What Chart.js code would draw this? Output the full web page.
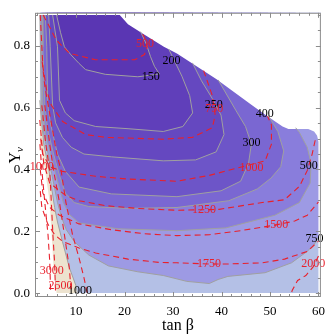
<!DOCTYPE html>
<html><head><meta charset="utf-8">
<script src="https://cdn.jsdelivr.net/npm/chart.js@4.4.0/dist/chart.umd.min.js"></script>
<style>html,body{margin:0;padding:0;background:#fff;}canvas{display:block;}</style>
</head><body>
<canvas id="c" width="332" height="334"></canvas>
<script>
// ---- axis ticks ----
const xTicks = [10, 20, 30, 40, 50, 60];
const yTicks = [0.0, 0.2, 0.4, 0.6, 0.8];

// ---- data domain: top / diagonal edge of the computed region (tan beta, Y) ----
const edgeTop = [[2.5,0.9],[19.0,0.9],[20.7,0.870],[23.3,0.844],[28.1,0.797],[30.8,0.775],[38.9,0.693],[46.3,0.608],[49.4,0.573],[52.6,0.539],[53.8,0.531],[57.9,0.531],[59.1,0.523],[59.7,0.510],[60.0,0.491]];

// ---- grey (filled) contour levels ----
const c150 = [[5.96,0.9],[6.77,0.844],[7.58,0.797],[8.93,0.771],[10.61,0.743],[11.96,0.723],[16.0,0.708],[22.73,0.700],[27.17,0.709],[26.16,0.734],[25.35,0.765],[24.55,0.803],[23.3,0.846]];
const c200 = [[5.15,0.9],[6.16,0.797],[6.57,0.624],[7.78,0.583],[9.60,0.558],[14.04,0.539],[20.71,0.532],[27.98,0.523],[32.02,0.539],[34.04,0.583],[33.43,0.639],[31.82,0.702],[29.1,0.79]];
const c250 = [[4.34,0.9],[4.65,0.797],[5.15,0.608],[5.76,0.551],[7.17,0.504],[8.99,0.472],[11.62,0.450],[17.27,0.441],[27.98,0.428],[34.65,0.431],[38.89,0.457],[40.51,0.513],[39.90,0.576],[38.08,0.630],[35.86,0.687],[34.0,0.745]];
const c300 = [[3.64,0.9],[3.94,0.797],[4.14,0.608],[4.75,0.545],[6.16,0.450],[7.78,0.394],[10.61,0.343],[17.27,0.321],[30.81,0.312],[39.90,0.331],[43.94,0.362],[45.56,0.419],[46.16,0.482],[44.95,0.539],[42.93,0.592],[39.3,0.69]];
const c400 = [[3.03,0.9],[3.13,0.797],[3.54,0.608],[4.14,0.529],[5.35,0.450],[6.57,0.381],[7.78,0.324],[9.60,0.293],[12.63,0.280],[20.71,0.274],[30.81,0.277],[41.52,0.299],[47.37,0.337],[50.20,0.372],[52.22,0.409],[52.83,0.460],[51.62,0.523],[49.60,0.576]];
const c500 = [[2.73,0.9],[2.83,0.797],[3.13,0.608],[3.74,0.513],[4.75,0.450],[5.76,0.387],[6.57,0.340],[7.37,0.293],[8.59,0.255],[10.61,0.227],[18.69,0.208],[30.81,0.202],[40.91,0.211],[51.01,0.252],[56.06,0.293],[58.28,0.356],[58.48,0.419],[57.68,0.472],[56.06,0.520],[55.3,0.535]];
const c750 = [[2.53,0.9],[2.63,0.797],[2.83,0.608],[3.33,0.513],[4.24,0.450],[4.95,0.387],[5.56,0.340],[6.16,0.293],[6.97,0.246],[7.98,0.205],[9.60,0.167],[12.63,0.123],[16.67,0.088],[22.73,0.069],[27.98,0.057],[32.83,0.038],[37.47,0.031],[39.29,0.044],[41.31,0.054],[48.99,0.066],[54.44,0.098],[57.68,0.135],[59.09,0.157],[60.0,0.180]];
const c1000 = [[2.5,0.624],[2.93,0.545],[3.33,0.482],[3.74,0.450],[4.34,0.403],[4.95,0.340],[5.56,0.277],[6.16,0.230],[7.17,0.167],[8.59,0.083],[9.94,0.025],[10.26,0.0]];
const cHigh = [[2.5,0.49],[3.54,0.403],[4.55,0.293],[4.95,0.189],[5.35,0.085],[5.96,0.0],[2.5,0.0]];

// ---- red dashed contours ----
const r500 = [[3.2,0.9],[4.55,0.860],[5.9,0.819],[8.59,0.776],[14.0,0.755],[22.1,0.755],[24.1,0.772],[24.7,0.797],[24.1,0.828],[23.4,0.846]];
const r750 = [[2.6,0.9],[3.13,0.734],[3.94,0.655],[4.89,0.608],[7.23,0.555],[11.96,0.513],[16.0,0.504],[28.0,0.498],[34.0,0.504],[38.1,0.535],[38.7,0.576],[38.1,0.639],[36.7,0.702],[36.3,0.72]];
const r1000 = [[2.5,0.56],[3.13,0.450],[4.55,0.409],[7.17,0.394],[14.0,0.378],[20.7,0.369],[30.8,0.362],[37.5,0.381],[44.3,0.409],[49.0,0.428],[50.3,0.482],[50.3,0.545],[49.5,0.572]];
const r1250 = [[2.7,0.5],[3.33,0.419],[4.55,0.356],[7.92,0.315],[10.6,0.299],[16.0,0.283],[22.7,0.274],[30.8,0.268],[39.5,0.271],[44.3,0.283],[48.4,0.293],[53.0,0.302],[56.1,0.346],[57.7,0.397],[58.7,0.450],[59.5,0.507]];
const r1500 = [[2.6,0.40],[3.13,0.324],[4.55,0.277],[6.57,0.252],[10.6,0.224],[17.3,0.205],[24.1,0.192],[30.8,0.186],[37.5,0.189],[43.9,0.202],[51.0,0.220],[55.1,0.233],[57.7,0.252],[60.0,0.295]];
const r1750 = [[2.6,0.33],[2.93,0.277],[4.14,0.224],[5.56,0.189],[7.23,0.167],[10.6,0.146],[14.0,0.130],[20.7,0.110],[27.4,0.099],[30.8,0.098],[37.5,0.094],[40.9,0.094],[48.4,0.098],[53.0,0.110],[57.7,0.135],[60.0,0.168]];
const r2000a = [[3.0,0.75],[3.54,0.67],[4.95,0.545],[6.0,0.45],[6.9,0.397],[7.9,0.293],[9.26,0.189],[10.6,0.114],[11.6,0.051],[12.3,0.0]];
const r2000b = [[60.0,0.12],[58.9,0.085],[57.4,0.057],[55.7,0.041],[54.6,0.009],[54.4,0.0]];
const r2500 = [[3.54,0.608],[4.55,0.482],[5.35,0.397],[6.57,0.293],[7.58,0.189],[8.59,0.082],[9.0,0.0]];
const r3000 = [[2.93,0.608],[3.74,0.482],[4.55,0.397],[4.89,0.293],[5.21,0.189],[5.56,0.098],[5.76,0.0]];
const r3500 = [[2.53,0.482],[2.93,0.397],[3.54,0.293],[4.2,0.189],[4.55,0.104],[4.75,0.0]];

// ---- contour labels ----
const greyLabels = ['150','200','250','300','400','500','750','1000'];
const greyLabelT = [25.4, 29.7, 38.4, 46.2, 48.9, 58.0, 59.2, 10.8];
const greyLabelY = [0.699, 0.750, 0.608, 0.485, 0.580, 0.413, 0.176, 0.006];
const redLabels = ['500','750','1000','1000','1250','1500','1750','2000','3000','2500'];
const redLabelT = [24.2, 38.5, 46.2, 2.9, 36.4, 51.3, 37.4, 58.9, 4.95, 6.77];
const redLabelY = [0.805, 0.595, 0.406, 0.409, 0.270, 0.220, 0.096, 0.094, 0.072, 0.025];

// ---- styles ----
const FONT = "'Liberation Serif', 'DejaVu Serif', serif";
const bandColors = {
  high: '#ffffff', beige: '#ede3cf', b1000: '#b4c0e6', b750: '#9d9ae4', b500: '#897ddc',
  b400: '#7a67d2', b300: '#6d55c8', b250: '#6548c0', b200: '#603fba', b150: '#5a36b3'
};
const GREY = '#a0a0a0', RED = '#e8202c';

const P = a => a.map(p => ({x: p[0], y: p[1]}));
const first = a => a[0], last = a => a[a.length - 1];
// close a contour through the (masked) region outside the data domain
const closeTop = c => c.concat([[last(c)[0], 1.3], [first(c)[0], 1.3]]);
const closeRight = c => c.concat([[70, last(c)[1]], [70, 1.3], [first(c)[0], 1.3]]);
const closeBottom = c => c.concat([[last(c)[0], -0.3], [70, -0.3], [70, 1.3], [first(c)[0], 1.3]]);

const domain = edgeTop.concat([[60, 0], [2.5, 0]]);
const maskTop = [[-5, 0.9]].concat(edgeTop, [[70, 0.491], [70, 1.5], [-5, 1.5]]);
const maskRight = [[60, -1], [70, -1], [70, 1.5], [60, 1.5]];
const maskLeft = [[-5, -1], [2.5, -1], [2.5, 1.5], [-5, 1.5]];
const maskBottom = [[-5, -1], [70, -1], [70, 0], [-5, 0]];

const seq = []; // bottom to top
const area = (pts, color) => seq.push({data: P(pts), fill: 'shape', backgroundColor: color, borderWidth: 0, borderColor: 'rgba(0,0,0,0)'});
const line = (pts, color, width, dash) => seq.push({data: P(pts), fill: false, borderColor: color, borderWidth: width, borderDash: dash || []});

area(domain, bandColors.beige);
area(cHigh, bandColors.high);
area(closeBottom(c1000), bandColors.b1000);
area(closeRight(c750), bandColors.b750);
area(closeTop(c500), bandColors.b500);
area(closeTop(c400), bandColors.b400);
area(closeTop(c300), bandColors.b300);
area(closeTop(c250), bandColors.b250);
area(closeTop(c200), bandColors.b200);
area(closeTop(c150), bandColors.b150);
[maskTop, maskRight, maskLeft, maskBottom].forEach(m => area(m, '#ffffff'));
[c150, c200, c250, c300, c400, c500, c750, c1000].forEach(c => line(c, GREY, 1));
[r500, r750, r1000, r1250, r1500, r1750, r2000a, r2000b, r2500, r3000, r3500].forEach(c => line(c, RED, 1.1, [6, 4]));

const datasets = seq.map((d, i) => Object.assign({pointRadius: 0, tension: 0, order: seq.length - i}, d));

const decor = {
  id: 'decor',
  afterDatasetsDraw(chart) {
    const {ctx, scales: {x, y}} = chart;
    ctx.save();
    ctx.font = '12px ' + FONT;
    ctx.textAlign = 'center';
    ctx.textBaseline = 'middle';
    ctx.fillStyle = '#000';
    greyLabels.forEach((s, i) => ctx.fillText(s, x.getPixelForValue(greyLabelT[i]), y.getPixelForValue(greyLabelY[i])));
    ctx.fillStyle = RED;
    redLabels.forEach((s, i) => ctx.fillText(s, x.getPixelForValue(redLabelT[i]), y.getPixelForValue(redLabelY[i])));
    ctx.restore();
  },
  afterDraw(chart) {
    const {ctx, chartArea: a, scales: {x, y}} = chart;
    ctx.save();
    ctx.strokeStyle = '#8c8c8c';
    ctx.lineWidth = 1;
    ctx.strokeRect(a.left + 0.5, a.top + 0.5, a.right - a.left - 1, a.bottom - a.top - 1);
    ctx.beginPath();
    for (let v = 2; v <= 60; v += 2) {
      const px = Math.round(x.getPixelForValue(v)) + 0.5;
      const len = v % 10 === 0 ? 5 : 3;
      ctx.moveTo(px, a.bottom); ctx.lineTo(px, a.bottom - len);
      ctx.moveTo(px, a.top); ctx.lineTo(px, a.top + len);
    }
    for (let k = 0; k <= 18; k++) {
      const py = Math.round(y.getPixelForValue(k * 0.05)) + 0.5;
      const len = k % 4 === 0 ? 5 : 3;
      ctx.moveTo(a.left, py); ctx.lineTo(a.left + len, py);
      ctx.moveTo(a.right, py); ctx.lineTo(a.right - len, py);
    }
    ctx.stroke();
    // axis titles
    ctx.fillStyle = '#000';
    ctx.textBaseline = 'alphabetic';
    ctx.textAlign = 'center';
    ctx.font = '16px ' + FONT;
    ctx.fillText('tan β', (a.left + a.right) / 2, 330);
    ctx.translate(20, (a.top + a.bottom) / 2);
    ctx.rotate(-Math.PI / 2);
    ctx.textAlign = 'right';
    ctx.font = '16px ' + FONT;
    ctx.fillText('Y', 3, 0);
    ctx.textAlign = 'left';
    ctx.font = 'italic 11px ' + FONT;
    ctx.fillText('ν', 3, 3);
    ctx.restore();
  }
};

new Chart(document.getElementById('c'), {
  type: 'line',
  data: {datasets},
  options: {
    responsive: false, devicePixelRatio: 1, animation: false, events: [],
    layout: {padding: {left: 0, right: 5, top: 5, bottom: 0}},
    plugins: {legend: {display: false}, tooltip: {enabled: false}},
    scales: {
      x: {
        type: 'linear', min: 1.515, max: 60.5,
        afterFit(s) { s.height = 37; },
        afterBuildTicks(s) { s.ticks = xTicks.map(v => ({value: v})); },
        grid: {display: false, drawTicks: false}, border: {display: false},
        ticks: {color: '#000', font: {family: FONT, size: 13}, padding: 7, maxRotation: 0, autoSkip: false, callback: v => String(v)}
      },
      y: {
        type: 'linear', min: -0.0126, max: 0.907,
        afterFit(s) { s.width = 35; },
        afterBuildTicks(s) { s.ticks = yTicks.map(v => ({value: v})); },
        grid: {display: false, drawTicks: false}, border: {display: false},
        ticks: {color: '#000', font: {family: FONT, size: 13}, padding: 5, autoSkip: false, callback: v => v.toFixed(1)}
      }
    }
  },
  plugins: [decor]
});
</script>
</body></html>
